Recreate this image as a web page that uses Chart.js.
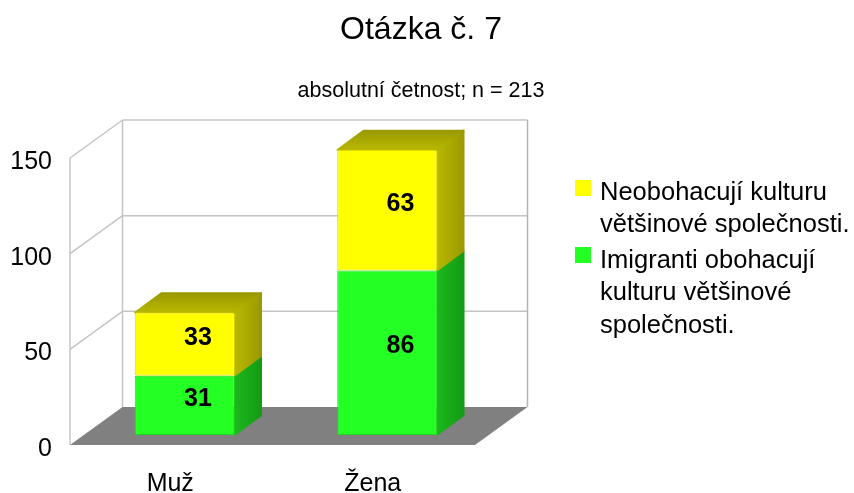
<!DOCTYPE html>
<html>
<head>
<meta charset="utf-8">
<title>Otázka č. 7</title>
<script src="https://cdn.jsdelivr.net/npm/chart.js@4"></script>
<style>
  body { margin: 0; background: #fff; }
  canvas { display: block; }
</style>
</head>
<body>
<canvas id="chart" width="854" height="493"></canvas>
<script>
const categories = ["Muž", "Žena"];
const imigranti = [31, 86];
const neobohacuji = [33, 63];
const yTicks = [0, 50, 100, 150];
const legendYellow = ["Neobohacují kulturu", "většinové společnosti."];
const legendGreen = ["Imigranti obohacují", "kulturu většinové", "společnosti."];

const FONT = "'Liberation Sans', Arial, sans-serif";
// hloubka grafu (podlaha) a hloubka sloupcu
const wallDx = 52.5, wallDy = -38;
const barShiftX = 13.5, barShiftY = -10;
const barDx = 26.5, barDy = -19.5;

function poly(ctx, pts, fill) {
    ctx.beginPath();
    pts.forEach((p, i) => (i ? ctx.lineTo(p[0], p[1]) : ctx.moveTo(p[0], p[1])));
    ctx.closePath();
    ctx.fillStyle = fill;
    ctx.fill();
    ctx.lineJoin = "round";
    ctx.lineWidth = 1.5;
    ctx.strokeStyle = fill;
    ctx.stroke();
}

function line(ctx, x1, y1, x2, y2, color) {
    ctx.beginPath();
    ctx.moveTo(x1, y1);
    ctx.lineTo(x2, y2);
    ctx.strokeStyle = color;
    ctx.lineWidth = 1.5;
    ctx.stroke();
}

const scene3d = {
    id: "scene3d",
    beforeDatasetsDraw(chart) {
        const { ctx, chartArea: a, scales } = chart;
        const y0 = a.bottom;

        ctx.save();
        // podlaha
        ctx.fillStyle = "#808080";
        ctx.beginPath();
        ctx.moveTo(a.left, y0);
        ctx.lineTo(a.right, y0);
        ctx.lineTo(a.right + wallDx, y0 + wallDy);
        ctx.lineTo(a.left + wallDx, y0 + wallDy);
        ctx.closePath();
        ctx.fill();

        // steny a mrizka
        const grid = "#c4c4c4";
        yTicks.forEach((v) => {
            const y = scales.y.getPixelForValue(v);
            if (v > 0) {
                line(ctx, a.left, y, a.left + wallDx, y + wallDy, grid);
                line(ctx, a.left + wallDx, y + wallDy, a.right + wallDx, y + wallDy, grid);
            }
        });
        line(ctx, a.left, a.top, a.left, y0, grid);
        line(ctx, a.left + wallDx, a.top + wallDy, a.left + wallDx, y0 + wallDy, grid);
        line(ctx, a.right + wallDx, a.top + wallDy, a.right + wallDx, y0 + wallDy, "#b4b4b4");

        // boky a vrsky sloupcu
        ctx.translate(barShiftX, barShiftY);
        chart.data.datasets.forEach((ds, i) => {
            chart.getDatasetMeta(i).data.forEach((bar) => {
                const r = bar.x + bar.width / 2;
                const l = bar.x - bar.width / 2;
                const side = ctx.createLinearGradient(r, 0, r + barDx, 0);
                side.addColorStop(0, ds.sideColors[0]);
                side.addColorStop(1, ds.sideColors[1]);
                poly(ctx, [[r, bar.y], [r + barDx, bar.y + barDy], [r + barDx, bar.base + barDy], [r, bar.base]], side);
                if (i === chart.data.datasets.length - 1) {
                    const top = ctx.createLinearGradient(0, bar.y, 0, bar.y + barDy);
                    top.addColorStop(0, ds.sideColors[0]);
                    top.addColorStop(1, ds.sideColors[1]);
                    poly(ctx, [[l, bar.y], [r, bar.y], [r + barDx, bar.y + barDy], [l + barDx, bar.y + barDy]], top);
                }
            });
        });
        ctx.restore();

        ctx.save();
        ctx.translate(barShiftX, barShiftY);
    },
    afterDatasetsDraw(chart) {
        const { ctx } = chart;
        ctx.restore();

        // hodnoty uprostred sloupcu
        ctx.save();
        ctx.font = "bold 25px " + FONT;
        ctx.fillStyle = "#000";
        ctx.textAlign = "center";
        ctx.textBaseline = "middle";
        chart.data.datasets.forEach((ds, i) => {
            chart.getDatasetMeta(i).data.forEach((bar, j) => {
                const x = bar.x + barShiftX + barDx / 2;
                const y = (bar.y + bar.base) / 2 + barShiftY + barDy / 2 + 3.5;
                ctx.fillText(ds.data[j], x, y);
            });
        });
        ctx.restore();
    }
};

// legenda je vlastni box, Chart.js legenda neumi zalomeni
const legendBox = {
    position: "right",
    weight: 0,
    fullSize: false,
    options: {},
    isHorizontal() { return false; },
    update(w, h) {
        this.width = 367;
        this.height = h;
    },
    draw() {
        const ctx = this.ctx;
        ctx.save();
        ctx.font = "25.5px " + FONT;
        ctx.fillStyle = "#000";
        ctx.textBaseline = "middle";
        ctx.fillText(legendYellow[0], 600, 193);
        ctx.fillText(legendYellow[1], 600, 225);
        ctx.fillText(legendGreen[0], 600, 261);
        ctx.fillText(legendGreen[1], 600, 293);
        ctx.fillText(legendGreen[2], 600, 326);
        ctx.fillStyle = "#ffff00";
        ctx.fillRect(575, 180, 16, 16);
        ctx.fillStyle = "#24ff24";
        ctx.fillRect(575, 247, 16, 16);
        ctx.restore();
    }
};

new Chart(document.getElementById("chart"), {
    type: "bar",
    data: {
        labels: categories,
        datasets: [
            {
                label: legendGreen.join(" "),
                data: imigranti,
                backgroundColor: "#24ff24",
                borderColor: "#1fd81f",
                sideColors: ["#1cb81c", "#149a14"],
            },
            {
                label: legendYellow.join(" "),
                data: neobohacuji,
                backgroundColor: "#ffff00",
                borderColor: "#dcdc00",
                sideColors: ["#b8b800", "#999900"],
            },
        ],
    },
    options: {
        responsive: false,
        animation: false,
        layout: { padding: { left: 0, right: 12, top: 0, bottom: 0 } },
        datasets: {
            bar: {
                categoryPercentage: 1,
                barPercentage: 0.494,
                borderWidth: 1,
                borderSkipped: false,
                borderRadius: 2,
                clip: false,
            },
        },
        scales: {
            x: {
                stacked: true,
                grid: { display: false, drawTicks: false },
                border: { display: false },
                ticks: { color: "#000", padding: 24, labelOffset: -1, font: { family: FONT, size: 25 } },
                afterFit(scale) { scale.height = 48; },
            },
            y: {
                stacked: true,
                min: 0,
                max: 150,
                grid: { display: false, drawTicks: false },
                border: { display: false },
                ticks: {
                    color: "#000",
                    padding: 18,
                    labelOffset: 4,
                    stepSize: 50,
                    font: { family: FONT, size: 25 },
                },
                afterFit(scale) { scale.width = 70; },
            },
        },
        plugins: {
            legend: { display: false },
            tooltip: { enabled: false },
            title: {
                display: true,
                text: "Otázka č. 7",
                color: "#000",
                font: { family: FONT, size: 32, weight: "normal", lineHeight: 1 },
                padding: { top: 14, bottom: 0 },
            },
            subtitle: {
                display: true,
                text: "absolutní četnost; n = 213",
                color: "#000",
                font: { family: FONT, size: 21.5, weight: "normal", lineHeight: 1 },
                padding: { top: 34, bottom: 56.5 },
            },
        },
    },
    plugins: [
        scene3d,
        {
            id: "legendBox",
            start(chart) {
                legendBox.ctx = chart.ctx;
                Chart.layouts.addBox(chart, legendBox);
            },
        },
    ],
});
</script>
</body>
</html>
